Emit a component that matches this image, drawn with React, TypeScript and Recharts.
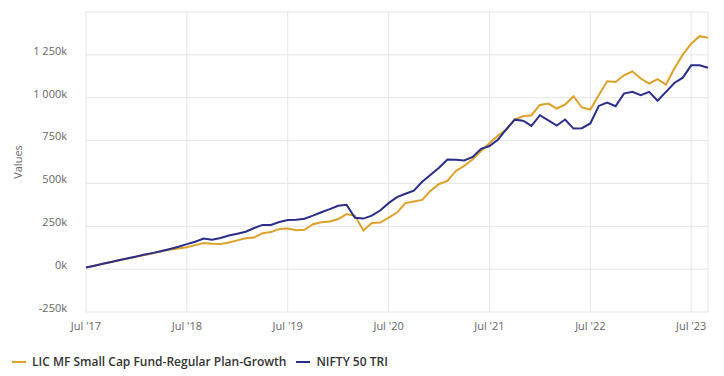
import { LineChart, Line, XAxis, YAxis, CartesianGrid, Legend } from "recharts";

// months since Jul 2017, values in thousands
const fundValues = [
  10, 20, 31, 42, 52, 62, 73, 83, 93, 104, 114, 120,
  128, 140, 152, 148, 146, 155, 168, 180, 184, 210, 216, 234,
  237, 227, 230, 262, 274, 278, 292, 321, 311, 226, 269, 272,
  300, 330, 385, 395, 404, 458, 497, 515, 573, 602, 641, 689,
  734, 778, 815, 873, 892, 898, 958, 966, 937, 960, 1009, 943,
  931, 1015, 1096, 1092, 1131, 1154, 1112, 1083, 1108, 1077, 1170, 1251,
  1315, 1359, 1350,
];

const niftyValues = [
  10, 20, 31, 42, 53, 63, 74, 85, 95, 106, 118, 131,
  146, 160, 178, 172, 182, 196, 207, 218, 240, 258, 258, 275,
  286, 288, 294, 312, 332, 350, 370, 375, 300, 295, 312, 342,
  385, 420, 440, 458, 510, 550, 592, 640, 638, 634, 655, 702,
  718, 755, 815, 872, 866, 836, 898, 868, 838, 873, 820, 822,
  850, 952, 972, 950, 1024, 1034, 1015, 1034, 982, 1034, 1086, 1117,
  1189, 1189, 1175,
];

const xTicks = [0, 12, 24, 36, 48, 60, 72];
const xTickLabels = ["Jul '17", "Jul '18", "Jul '19", "Jul '20", "Jul '21", "Jul '22", "Jul '23"];
const yTicks = [-250, 0, 250, 500, 750, 1000, 1250, 1500];

const FUND = "LIC MF Small Cap Fund-Regular Plan-Growth";
const NIFTY = "NIFTY 50 TRI";
const GOLD = "#DDA12A";
const NAVY = "#2B2D8A";

const data = fundValues.map((v, i) => ({ m: i, fund: v, nifty: niftyValues[i] }));

function fmtK(v: number): string {
  if (v === 1500) return "";
  const s = String(Math.abs(v)).replace(/\B(?=(\d{3})+(?!\d))/g, " ");
  return (v < 0 ? "-" : "") + s + "k";
}

const axisTick = { fontSize: 11, fill: "#666666", fontFamily: "Open Sans" };

const LegendBox = () => (
  <div
    style={{
      display: "flex",
      height: 30,
      paddingTop: 17,
      boxSizing: "border-box",
      paddingLeft: 12,
      fontFamily: "Open Sans",
      fontSize: 12,
      fontWeight: 600,
      color: "#333333",
      lineHeight: "16px",
    }}
  >
    {[
      { name: FUND, color: GOLD },
      { name: NIFTY, color: NAVY },
    ].map((it) => (
      <div key={it.name} style={{ display: "flex", alignItems: "center", marginRight: 10 }}>
        <span style={{ display: "inline-block", width: 14, height: 2, background: it.color, marginRight: 6 }} />
        <span>{it.name}</span>
      </div>
    ))}
  </div>
);

export default function App() {
  return (
    <div style={{ position: "absolute", left: 0, top: 0 }}>
      <LineChart
        width={724}
        height={376}
        data={data}
        margin={{ top: 12, right: 16, left: 0, bottom: 8 }}
      >
        <CartesianGrid stroke="#e6e6e6" />
        <XAxis
          dataKey="m"
          type="number"
          domain={[0, 74]}
          ticks={xTicks}
          tickFormatter={(v: number) => xTickLabels[xTicks.indexOf(v)] ?? ""}
          tick={axisTick}
          tickLine={false}
          axisLine={false}
          tickMargin={4}
          height={26}
        />
        <YAxis
          type="number"
          domain={[-250, 1500]}
          ticks={yTicks}
          tickFormatter={fmtK}
          tick={{ ...axisTick, dy: -4 }}
          tickLine={false}
          axisLine={false}
          tickMargin={13}
          width={86}
          label={{
            content: (p: any) => {
              const vb = p.viewBox || {};
              const cx = (vb.x ?? 0) + 17;
              const cy = (vb.y ?? 0) + (vb.height ?? 0) / 2;
              return (
                <text
                  x={cx}
                  y={cy}
                  transform={`rotate(-90 ${cx} ${cy})`}
                  textAnchor="middle"
                  dominantBaseline="central"
                  fontSize={11}
                  fontFamily="Open Sans"
                  fill="#666666"
                >
                  Values
                </text>
              );
            },
          }}
        />
        <Legend verticalAlign="bottom" align="left" content={<LegendBox />} />
        <Line
          dataKey="fund"
          name={FUND}
          stroke={GOLD}
          strokeWidth={2}
          dot={false}
          type="linear"
          isAnimationActive={false}
        />
        <Line
          dataKey="nifty"
          name={NIFTY}
          stroke={NAVY}
          strokeWidth={2}
          dot={false}
          type="linear"
          isAnimationActive={false}
        />
      </LineChart>
    </div>
  );
}
